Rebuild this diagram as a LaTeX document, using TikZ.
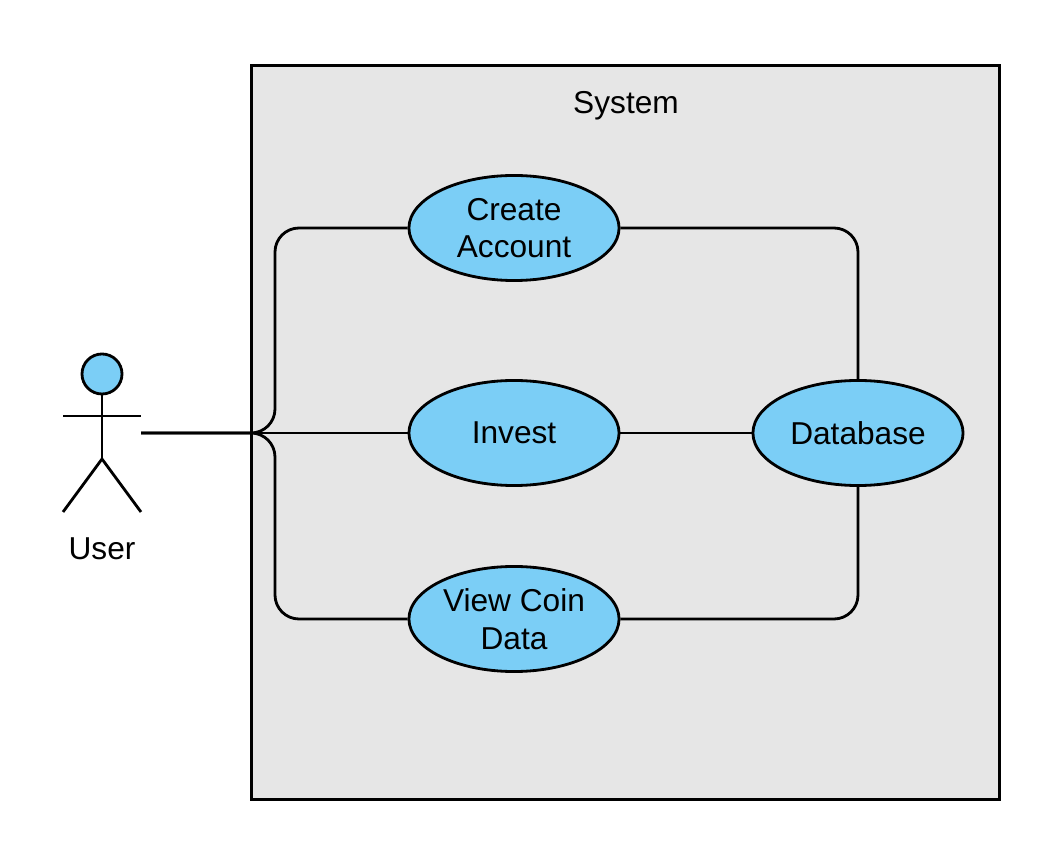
\documentclass[tikz,border=0pt]{standalone}
\usepackage{fontspec}
\setmainfont{Liberation Sans}
\usetikzlibrary{positioning}
\usetikzlibrary{shapes.geometric}
\definecolor{usecaseblue}{HTML}{7BCEF6}
\definecolor{systemgray}{HTML}{E6E6E6}
\tikzset{
	label text/.style={font=\fontsize{9pt}{10.7pt}\selectfont},
	usecase/.style={ellipse, draw, fill=usecaseblue, line width=0.8pt, minimum width=2.1cm, minimum height=1.05cm, inner sep=0pt, align=center, label text},
	link/.style={draw=black, line width=0.8pt, rounded corners=0.24cm},
	stick/.style={draw=black, line width=0.8pt}
}
\begin{document}
\begin{tikzpicture}[x=0.01cm, y=-0.01cm]
	\useasboundingbox (0,0) rectangle (1054,858);
	\node[draw, fill=systemgray, line width=0.8pt, minimum width=7.48cm, minimum height=7.34cm, inner sep=0pt] (system) at (625.5,432.5) {};
	\node[label text] (systemlabel) at (626,106) {System};

	\begin{scope}[every node/.style={usecase}]
		\node (create) at (514,228) {Create\\Account};
		\node (invest) at (514,433) {Invest};
		\node (view) at (514,619) {View Coin\\Data};
		\node (database) at (858,433) {Database};
	\end{scope}

	% actor
	\node[circle, draw, fill=usecaseblue, line width=0.8pt, minimum size=0.4cm, inner sep=0pt] (head) at (102,374) {};
	\coordinate (neck) at (102,459);
	\coordinate (armleft) at (63,416);
	\coordinate (armright) at (141,416);
	\coordinate (footleft) at (63,512);
	\coordinate (footright) at (141,512);
	\coordinate (actor) at (141,433);
	\coordinate (turnup) at (275,228);
	\coordinate (turndown) at (275,619);
	\node[label text] (user) at (102,549) {User};
	\path[stick] (head) -- (neck);
	\path[stick] (armleft) -- (armright);
	\path[stick] (footleft) -- (neck) -- (footright);

	\path[link] (actor) -| (turnup) -- (create);
	\path[link] (actor) -- (invest);
	\path[link] (actor) -| (turndown) -- (view);
	\path[link] (create) -| (database);
	\path[link] (invest) -- (database);
	\path[link] (view) -| (database);
\end{tikzpicture}
\end{document}
